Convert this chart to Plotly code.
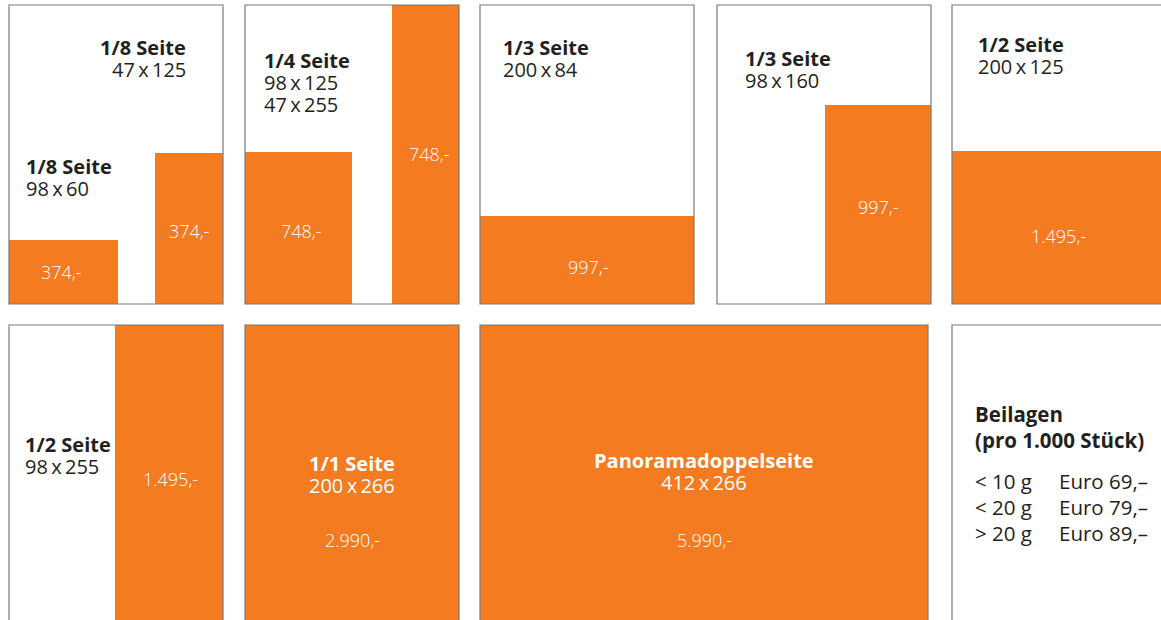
import plotly.graph_objects as go

# ---------------- content (data) ----------------
format_titles = ["1/8 Seite", "1/8 Seite", "1/4 Seite", "1/3 Seite", "1/3 Seite",
                 "1/2 Seite", "1/2 Seite", "1/1 Seite", "Panoramadoppelseite"]
format_dims = [["47\u2009x\u2009125"], ["98\u2009x\u200960"], ["98\u2009x\u2009125", "47\u2009x\u2009255"],
               ["200\u2009x\u200984"], ["98\u2009x\u2009160"], ["200\u2009x\u2009125"],
               ["98\u2009x\u2009255"], ["200\u2009x\u2009266"], ["412\u2009x\u2009266"]]
ad_prices = ["374,-", "374,-", "748,-", "748,-", "997,-", "997,-",
             "1.495,-", "1.495,-", "2.990,-", "5.990,-"]
beilagen_title = ["Beilagen", "(pro 1.000 Stück)"]
beilagen_weights = ["< 10 g", "< 20 g", "> 20 g"]
beilagen_prices = ["Euro 69,\u2013", "Euro 79,\u2013", "Euro 89,\u2013"]

# ---------------- layout geometry (pixel coordinates) ----------------
W, H = 1161, 620
ORANGE = "#F47B20"
INK = "#231F20"
FRAME = "#7a7a7a"

# page frames: x0, x1, y0, y1
frames = [(9, 223, 5, 304), (245, 459, 5, 304), (480, 694, 5, 304),
          (717, 931, 5, 304), (952, 1175, 5, 304),
          (9, 223, 325, 640), (245, 459, 325, 640), (480, 928, 325, 640),
          (952, 1175, 325, 640)]
# ad areas (same order as prices): x0, x1, y0, y1
ad_areas = [(9, 118, 240, 304), (155, 223, 153, 304),
            (245, 352, 152, 304), (392, 459, 5, 304),
            (480, 694, 216, 304), (825, 931, 105, 304),
            (952, 1175, 151, 304), (115, 223, 325, 640),
            (245, 459, 325, 640), (480, 928, 325, 640)]
price_pos = [(61, 272), (189, 231), (301, 231), (429, 154), (588, 267),
             (878, 207), (1058, 236), (170, 479), (352, 540), (704, 540)]
# title positions: x, y, anchor, colour
title_pos = [(188, 47, "right", INK), (24, 166, "left", INK), (262, 60, "left", INK),
             (501, 47, "left", INK), (743, 58, "left", INK), (976, 44, "left", INK),
             (23, 444, "left", INK), (352, 463, "center", "white"), (704, 460, "center", "white")]
LINE = 22

fig = go.Figure()
shapes = []
for (x0, x1, y0, y1) in ad_areas:
    shapes.append(dict(type="rect", xref="x", yref="y", x0=x0, x1=x1, y0=y0, y1=y1,
                       fillcolor=ORANGE, line=dict(width=0), layer="below"))
for (x0, x1, y0, y1) in frames:
    shapes.append(dict(type="rect", xref="x", yref="y", x0=x0, x1=x1, y0=y0, y1=y1,
                       fillcolor="rgba(0,0,0,0)", line=dict(color=FRAME, width=1.2), layer="above"))

FONT = "Open Sans"
TS = 20
ann = []
for title, dims, (x, y, anc, col) in zip(format_titles, format_dims, title_pos):
    ann.append(dict(x=x, y=y, text=title, xanchor=anc, yanchor="middle", showarrow=False,
                    font=dict(family=FONT, size=TS, color=col, weight="bold")))
    for i, d in enumerate(dims):
        ann.append(dict(x=x, y=y + LINE * (i + 1), text=d, xanchor=anc, yanchor="middle",
                        showarrow=False, font=dict(family=FONT, size=TS, color=col)))
for p, (x, y) in zip(ad_prices, price_pos):
    ann.append(dict(x=x, y=y, text=p, xanchor="center", yanchor="middle", showarrow=False,
                    font=dict(family=FONT, size=18, color="white", weight=300)))

bx = 973
for i, t in enumerate(beilagen_title):
    ann.append(dict(x=bx, y=414 + 26 * i, text=t, xanchor="left", yanchor="middle", showarrow=False,
                    font=dict(family=FONT, size=20.5, color=INK, weight="bold")))
for i, (wt, pr) in enumerate(zip(beilagen_weights, beilagen_prices)):
    yy = 481 + 26 * i
    ann.append(dict(x=bx, y=yy, text=wt, xanchor="left", yanchor="middle", showarrow=False,
                    font=dict(family=FONT, size=20.5, color=INK)))
    ann.append(dict(x=1057, y=yy, text=pr, xanchor="left", yanchor="middle", showarrow=False,
                    font=dict(family=FONT, size=20.5, color=INK)))

fig.update_layout(
    width=W, height=H, margin=dict(l=0, r=0, t=0, b=0),
    paper_bgcolor="white", plot_bgcolor="white",
    xaxis=dict(range=[0, W], visible=False, fixedrange=True),
    yaxis=dict(range=[H, 0], visible=False, fixedrange=True),
    shapes=shapes, annotations=ann, showlegend=False,
)
fig.write_html("out.html", config={"displayModeBar": False},
               post_script="document.body.style.margin='0';document.body.style.overflow='hidden';")
